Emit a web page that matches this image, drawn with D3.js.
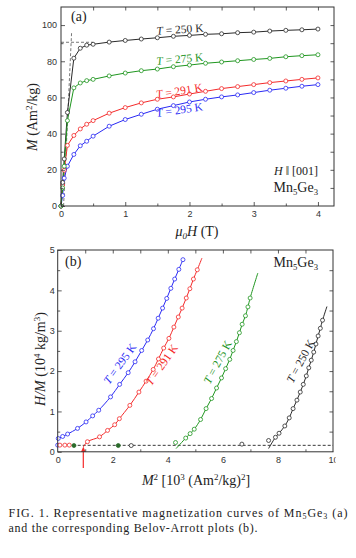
<!DOCTYPE html>
<html><head><meta charset="utf-8">
<script src="https://cdn.jsdelivr.net/npm/d3@7"></script>
<style>body{margin:0;background:#fff}svg{display:block}</style>
</head><body>
<svg id="c" width="356" height="558"></svg>
<script>
// ---------- data: panel (a) magnetization curves ----------
const fieldH = [0, 0.025, 0.05, 0.1, 0.2, 0.3, 0.4, 0.5, 0.75, 1, 1.25, 1.5, 1.75, 2, 2.25, 2.5, 2.75, 3, 3.25, 3.5, 3.75, 4];
const magT250 = [0, 13, 26, 51.7, 81.7, 87.2, 88.9, 89.4, 90.6, 91.5, 92.3, 93, 93.8, 94.3, 94.9, 95.2, 95.8, 96.1, 96.7, 97.1, 97.4, 97.8];
const magT275 = [0, 10, 22, 47.2, 65.3, 68, 69.3, 70, 71.9, 73.5, 74.8, 75.7, 77, 77.9, 78.9, 79.6, 80.3, 81, 81.6, 82.5, 83.1, 83.6];
const magT291 = [0, 11.6, 19.8, 33.5, 39, 42.6, 45.2, 47.2, 51.3, 54.4, 57, 59, 60.3, 61.9, 63.4, 64.9, 66, 67.1, 68.2, 69.1, 70, 70.8];
const magT295 = [0, 5.8, 15.4, 22, 28.5, 33.3, 35.8, 38.6, 44.1, 47.8, 50.7, 53.5, 55.5, 57.5, 59, 60.3, 61.4, 62.7, 64, 65.1, 66.2, 67.1];
const satGuideH = [0, 0.5];      // horizontal dashed guide
const satGuideM = [90.5, 90.5];
const slopeGuideH = [0.04, 0.165]; // slanted dashed guide
const slopeGuideM = [0, 96];

// ---------- data: panel (b) Belov-Arrott plots ----------
const sqM295 = [0.02, 0.18, 0.36, 0.72, 1.03, 1.27, 1.49, 1.92, 2.25, 2.56, 2.81, 3.05, 3.27, 3.48, 3.65, 3.81, 3.96, 4.11, 4.25, 4.40, 4.55];
const hm295  = [0.33, 0.38, 0.44, 0.58, 0.74, 0.89, 1.03, 1.36, 1.67, 1.96, 2.23, 2.51, 2.77, 3.05, 3.31, 3.56, 3.80, 4.05, 4.28, 4.52, 4.76];
const sqM291 = [1.08, 1.52, 1.81, 2.07, 2.24, 2.62, 2.95, 3.21, 3.47, 3.66, 3.85, 4.04, 4.22, 4.38, 4.52, 4.67, 4.80, 4.93, 5.07];
const hm291  = [0.25, 0.37, 0.53, 0.67, 0.82, 1.15, 1.48, 1.75, 2.04, 2.30, 2.57, 2.81, 3.09, 3.34, 3.56, 3.81, 4.04, 4.28, 4.51];
const sqM275 = [4.65, 4.81, 4.96, 5.19, 5.39, 5.59, 5.77, 5.95, 6.10, 6.25, 6.37, 6.49, 6.60, 6.70, 6.82, 6.91, 6.99];
const hm275  = [0.34, 0.45, 0.56, 0.80, 1.07, 1.32, 1.58, 1.83, 2.06, 2.29, 2.51, 2.73, 2.95, 3.16, 3.37, 3.59, 3.81];
const sqM250 = [7.91, 8.04, 8.25, 8.41, 8.55, 8.69, 8.81, 8.92, 9.03, 9.12, 9.21, 9.30, 9.38, 9.46, 9.54, 9.62];
const hm250  = [0.36, 0.46, 0.64, 0.84, 1.07, 1.28, 1.48, 1.67, 1.88, 2.08, 2.27, 2.47, 2.67, 2.87, 3.06, 3.26];
// low-field points lying off the fits
const lowSqM295 = [0.0],               lowHm295 = [0.165];
const lowSqM291 = [0.08, 0.26, 0.42],  lowHm291 = [0.165, 0.165, 0.165];
const lowSqM275 = [0.59, 2.2, 4.28],   lowHm275 = [0.155, 0.155, 0.23];
const lowSqM250 = [2.67, 6.69, 7.66],  lowHm250 = [0.155, 0.19, 0.28];
// fit line end points
const fitEnds291 = [[0.93, 0.12], [5.24, 4.80]];
const fitEnds275 = [[4.30, 0.08], [7.27, 4.43]];
const fitEnds250 = [[7.66, 0.08], [9.78, 3.60]];
const thresholdHM = 0.16;
const arrowSqM = 0.93, arrowFromHM = -0.40, arrowToHM = 0.13;

const labelsT = ["T = 250 K", "T = 275 K", "T = 291 K", "T = 295 K"];

// ---------- styles ----------
const COL = {k:"#2a2a2a", g:"#1f961f", r:"#f42a2a", b:"#2a2af4"};
const SERIF = "'Liberation Serif','Times New Roman',serif";
const SANS = "'Liberation Sans',Arial,sans-serif";

const svg = d3.select("#c");

function tLabel(g, text, color, x, y, rot, anchor, size) {
  const t = g.append("text").attr("transform", `translate(${x},${y}) rotate(${rot})`)
    .attr("text-anchor", anchor).attr("font-family", SERIF).attr("font-size", size).attr("fill", color);
  t.append("tspan").attr("font-style", "italic").text("T");
  t.append("tspan").text(text.slice(1));
}
function mnGe(g, x, y, size) {
  const t = g.append("text").attr("x", x).attr("y", y).attr("text-anchor", "end")
    .attr("font-family", SERIF).attr("font-size", size).attr("fill", "#222");
  t.append("tspan").text("Mn");
  t.append("tspan").attr("font-size", size*0.62).attr("dy", 3).text("5");
  t.append("tspan").attr("dy", -3).text("Ge");
  t.append("tspan").attr("font-size", size*0.62).attr("dy", 3).text("3");
}
function axes(g, x, y, o) {
  const [x0, x1] = x.range(), [y0, y1] = y.range();
  const style = sel => { sel.select(".domain").remove();
    sel.selectAll("line").attr("stroke", "#333").attr("stroke-width", 0.8);
    sel.selectAll("text").attr("font-family", SANS).attr("font-size", 9).attr("fill", "#333"); };
  g.append("g").attr("class","bmaj").attr("transform", `translate(0,${y0})`)
    .call(d3.axisBottom(x).tickValues(o.bMaj).tickSize(-4).tickPadding(5).tickFormat(d3.format("d"))).call(style);
  g.append("g").attr("transform", `translate(0,${y0})`)
    .call(d3.axisBottom(x).tickValues(o.bMin).tickSize(-2.5).tickFormat("")).call(style);
  g.append("g").attr("transform", `translate(0,${y1})`)
    .call(d3.axisTop(x).tickValues(o.top).tickSize(-3.5).tickFormat("")).call(style);
  g.append("g").attr("transform", `translate(${x0},0)`)
    .call(d3.axisLeft(y).tickValues(o.lMaj).tickSize(-4).tickPadding(o.lPad).tickFormat(d3.format("d"))).call(style);
  g.append("g").attr("transform", `translate(${x0},0)`)
    .call(d3.axisLeft(y).tickValues(o.lMin).tickSize(-2.5).tickFormat("")).call(style);
  g.append("g").attr("transform", `translate(${x1},0)`)
    .call(d3.axisRight(y).tickValues(o.right).tickSize(-3.5).tickFormat("")).call(style);
  g.append("rect").attr("x", x0).attr("y", y1).attr("width", x1-x0).attr("height", y0-y1)
    .attr("fill", "none").attr("stroke", "#333").attr("stroke-width", 1);
}
function dots(g, xs, ys, x, y, color, filled) {
  g.selectAll(null).data(xs.map((v,i)=>[v, ys[i]])).join("circle")
    .attr("cx", d=>x(d[0])).attr("cy", d=>y(d[1])).attr("r", 2)
    .attr("fill", filled ? color : "#fff").attr("stroke", color).attr("stroke-width", 0.8);
}

// ================= Panel (a) =================
const ga = svg.append("g");
const xa = d3.scaleLinear().domain([0, 4.25]).range([61, 334]);
const ya = d3.scaleLinear().domain([0, 110]).range([206, 7]);
const lineA = d3.line().x(d=>xa(d[0])).y(d=>ya(d[1]));
ga.append("path").attr("d", lineA(satGuideH.map((v,i)=>[v, satGuideM[i]])))
  .attr("fill","none").attr("stroke","#555").attr("stroke-width",0.8).attr("stroke-dasharray","3,2");
ga.append("path").attr("d", lineA(slopeGuideH.map((v,i)=>[v, slopeGuideM[i]])))
  .attr("fill","none").attr("stroke","#555").attr("stroke-width",0.8).attr("stroke-dasharray","3,2");
const seriesA = [[magT295, COL.b], [magT291, COL.r], [magT250, COL.k], [magT275, COL.g]];
seriesA.forEach(([m, c]) => {
  ga.append("path").attr("d", lineA(fieldH.map((h,i)=>[h, m[i]])))
    .attr("fill","none").attr("stroke", c).attr("stroke-width", 1);
});
seriesA.forEach(([m, c]) => dots(ga, fieldH, m, xa, ya, c, false));
axes(ga, xa, ya, {bMaj:[0,1,2,3,4], bMin:[0.5,1.5,2.5,3.5], top:d3.range(0.5,4.25,0.5),
  lMaj:[0,20,40,60,80,100], lMin:[10,30,50,70,90], right:d3.range(10,110,10), lPad:4});
ga.append("text").attr("x", 71).attr("y", 21).attr("font-family", SERIF).attr("font-size", 14).attr("fill","#222").text("(a)");
tLabel(ga, labelsT[0], COL.k, xa(1.49), ya(94.6), -4, "start", 11.5);
tLabel(ga, labelsT[1], COL.g, xa(1.49), ya(78.0), -5, "start", 11.5);
tLabel(ga, labelsT[2], COL.r, xa(1.49), ya(59.5), -9, "start", 11.5);
tLabel(ga, labelsT[3], COL.b, xa(1.49), ya(49.2), -8, "start", 11.5);
{ const t = ga.append("text").attr("x", 318).attr("y", 175).attr("text-anchor","end")
    .attr("font-family", SERIF).attr("font-size", 12).attr("fill","#222");
  t.append("tspan").attr("font-style","italic").text("H");
  t.append("tspan").text(" \u2016 [001]"); }
mnGe(ga, 318, 192, 14);
{ const t = ga.append("text").attr("transform","translate(37,117) rotate(-90)").attr("text-anchor","middle")
    .attr("font-family", SERIF).attr("font-size", 14).attr("fill","#222");
  t.append("tspan").attr("font-style","italic").text("M");
  t.append("tspan").text(" (Am");
  t.append("tspan").attr("font-size", 9).attr("dy", -5).text("2");
  t.append("tspan").attr("dy", 5).text("/kg)"); }
{ const t = ga.append("text").attr("x", 197).attr("y", 236).attr("text-anchor","middle")
    .attr("font-family", SERIF).attr("font-size", 14).attr("fill","#222");
  t.append("tspan").attr("font-style","italic").text("\u03bc");
  t.append("tspan").attr("font-style","italic").attr("font-size", 9).attr("dy", 3).text("0");
  t.append("tspan").attr("font-style","italic").attr("dy", -3).text("H");
  t.append("tspan").text(" (T)"); }

// ================= Panel (b) =================
const gb = svg.append("g");
const xb = d3.scaleLinear().domain([0, 10]).range([57.7, 333]);
const yb = d3.scaleLinear().domain([0, 5]).range([451.8, 250]);
const lineB = d3.line().x(d=>xb(d[0])).y(d=>yb(d[1]));
const fitB = d3.line().x(d=>xb(d[0])).y(d=>yb(d[1])).curve(d3.curveCatmullRom.alpha(0.5));
gb.append("path").attr("d", lineB([[0, thresholdHM], [10, thresholdHM]]))
  .attr("fill","none").attr("stroke","#222").attr("stroke-width",0.9).attr("stroke-dasharray","3,2");
const pts = (xs, ys) => xs.map((v,i)=>[v, ys[i]]);
const seriesB = [
  {xs:sqM295, ys:hm295, c:COL.b, fit:pts(sqM295, hm295)},
  {xs:sqM291, ys:hm291, c:COL.r, fit:[fitEnds291[0], ...pts(sqM291, hm291), fitEnds291[1]]},
  {xs:sqM275, ys:hm275, c:COL.g, fit:[fitEnds275[0], ...pts(sqM275, hm275), fitEnds275[1]]},
  {xs:sqM250, ys:hm250, c:COL.k, fit:[fitEnds250[0], ...pts(sqM250, hm250), fitEnds250[1]]}
];
seriesB.forEach(s => gb.append("path").attr("d", fitB(s.fit)).attr("fill","none").attr("stroke", s.c).attr("stroke-width", 1));
seriesB.forEach(s => { dots(gb, s.xs, s.ys, xb, yb, s.c, false); });
dots(gb, lowSqM295, lowHm295, xb, yb, COL.b, false);
dots(gb, lowSqM291, lowHm291, xb, yb, COL.r, false);
dots(gb, lowSqM275.slice(0,2), lowHm275.slice(0,2), xb, yb, "#2a6a2a", true);
dots(gb, lowSqM275.slice(2), lowHm275.slice(2), xb, yb, COL.g, false);
dots(gb, lowSqM250, lowHm250, xb, yb, COL.k, false);
// red arrow
gb.append("line").attr("x1", xb(arrowSqM)).attr("x2", xb(arrowSqM)).attr("y1", yb(arrowFromHM)).attr("y2", yb(arrowToHM)+4)
  .attr("stroke", COL.r).attr("stroke-width", 1.2);
gb.append("path").attr("d", `M${xb(arrowSqM)},${yb(arrowToHM)} l-2.3,5.5 l4.6,0 z`).attr("fill", COL.r);
axes(gb, xb, yb, {bMaj:[0,2,4,6,8,10], bMin:[1,3,5,7,9], top:d3.range(1,10,1),
  lMaj:[0,1,2,3,4,5], lMin:[0.5,1.5,2.5,3.5,4.5], right:d3.range(0.5,5,0.5), lPad:3});
// the "10" label is only partly visible in the original
svg.append("defs").append("clipPath").attr("id","clip10").append("rect")
  .attr("x",0).attr("y",0).attr("width",335.5).attr("height",558);
gb.select(".bmaj").attr("clip-path","url(#clip10)");
gb.append("text").attr("x", 65).attr("y", 266).attr("font-family", SERIF).attr("font-size", 14).attr("fill","#222").text("(b)");
mnGe(gb, 318, 267, 14);
tLabel(gb, labelsT[3], COL.b, 123, 366, -54, "middle", 11.5);
tLabel(gb, labelsT[2], COL.r, 165, 367, -55, "middle", 11.5);
tLabel(gb, labelsT[1], COL.g, 221, 364, -62, "middle", 11.5);
tLabel(gb, labelsT[0], COL.k, 304, 363, -62, "middle", 11.5);
{ const t = gb.append("text").attr("transform","translate(45,359) rotate(-90)").attr("text-anchor","middle")
    .attr("font-family", SERIF).attr("font-size", 14).attr("fill","#222");
  t.append("tspan").attr("font-style","italic").text("H/M");
  t.append("tspan").text(" (10");
  t.append("tspan").attr("font-size", 9).attr("dy", -5).text("4");
  t.append("tspan").attr("dy", 5).text(" kg/m");
  t.append("tspan").attr("font-size", 9).attr("dy", -5).text("3");
  t.append("tspan").attr("dy", 5).text(")"); }
{ const t = gb.append("text").attr("x", 196).attr("y", 485).attr("text-anchor","middle")
    .attr("font-family", SERIF).attr("font-size", 14).attr("fill","#222");
  t.append("tspan").attr("font-style","italic").text("M");
  t.append("tspan").attr("font-size", 9).attr("dy", -5).text("2");
  t.append("tspan").attr("dy", 5).text(" [10");
  t.append("tspan").attr("font-size", 9).attr("dy", -5).text("3");
  t.append("tspan").attr("dy", 5).text(" (Am");
  t.append("tspan").attr("font-size", 9).attr("dy", -5).text("2");
  t.append("tspan").attr("dy", 5).text("/kg)");
  t.append("tspan").attr("font-size", 9).attr("dy", -5).text("2");
  t.append("tspan").attr("dy", 5).text("]"); }

// ================= Caption =================
{ const t = svg.append("text").attr("x", 8.5).attr("y", 517).attr("font-family", SERIF).attr("font-size", 12)
    .attr("fill","#222").attr("textLength", 339).attr("lengthAdjust","spacing");
  t.append("tspan").text("FIG. 1. Representative magnetization curves of Mn");
  t.append("tspan").attr("font-size", 8).attr("dy", 2).text("5");
  t.append("tspan").attr("dy", -2).text("Ge");
  t.append("tspan").attr("font-size", 8).attr("dy", 2).text("3");
  t.append("tspan").attr("dy", -2).text(" (a)"); }
svg.append("text").attr("x", 8.5).attr("y", 532).attr("font-family", SERIF).attr("font-size", 12)
  .attr("fill","#222").attr("textLength", 249).attr("lengthAdjust","spacing")
  .text("and the corresponding Belov-Arrott plots (b).");
</script>
</body></html>
